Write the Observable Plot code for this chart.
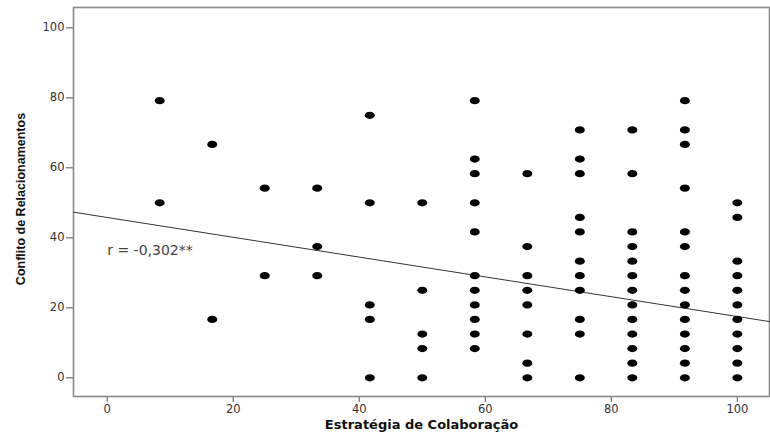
<!DOCTYPE html>
<html><head><meta charset="utf-8">
<script src="https://cdn.jsdelivr.net/npm/d3@7"></script>
<script src="https://cdn.jsdelivr.net/npm/@observablehq/plot@0.6"></script>
<style>body{margin:0;background:#fff}</style>
</head><body><div id="chart"></div>
<script>
// Estratégia de Colaboração (x) columns
const strategyX = [8.33, 16.67, 25, 33.33, 41.67, 50, 58.33, 66.67, 75, 83.33, 91.67, 100];
// Conflito de Relacionamentos (y) values observed in each column
const conflictY = [
  [79.17, 50],
  [66.67, 16.67],
  [54.17, 29.17],
  [54.17, 37.5, 29.17],
  [75, 50, 20.83, 16.67, 0],
  [50, 25, 12.5, 8.33, 0],
  [79.17, 62.5, 58.33, 50, 41.67, 29.17, 25, 20.83, 16.67, 12.5, 8.33],
  [58.33, 37.5, 29.17, 25, 20.83, 12.5, 4.17, 0],
  [70.83, 62.5, 58.33, 45.83, 41.67, 33.33, 29.17, 25, 16.67, 12.5, 0],
  [70.83, 58.33, 41.67, 37.5, 33.33, 29.17, 25, 20.83, 16.67, 12.5, 8.33, 4.17, 0],
  [79.17, 70.83, 66.67, 54.17, 41.67, 37.5, 29.17, 25, 20.83, 16.67, 12.5, 8.33, 4.17, 0],
  [50, 45.83, 33.33, 29.17, 25, 20.83, 16.67, 12.5, 8.33, 4.17, 0]
];
const xTicks = [0, 20, 40, 60, 80, 100];
const yTicks = [0, 20, 40, 60, 80, 100];
const xDomain = [-5.35, 105.1];
const yDomain = [-5.35, 105.8];
// fit line
const fitIntercept = 45.8;
const fitSlope = -0.283;
const rLabel = "r = -0,302**";
const rLabelPos = {x: 0, y: 36.4};
const xTitle = "Estratégia de Colaboração";
const yTitle = "Conflito de Relacionamentos";

const points = strategyX.flatMap((x, i) => conflictY[i].map(y => ({x, y})));
const fitLine = xDomain.map(x => ({x, y: fitIntercept + fitSlope * x}));

const ellipse = {
  draw(ctx, size) {
    const r = Math.sqrt(size / Math.PI);
    const rx = r * 1.25, ry = r * 0.9, k = 0.5523;
    ctx.moveTo(rx, 0);
    ctx.bezierCurveTo(rx, ry * k, rx * k, ry, 0, ry);
    ctx.bezierCurveTo(-rx * k, ry, -rx, ry * k, -rx, 0);
    ctx.bezierCurveTo(-rx, -ry * k, -rx * k, -ry, 0, -ry);
    ctx.bezierCurveTo(rx * k, -ry, rx, -ry * k, rx, 0);
    ctx.closePath();
  }
};

const chart = Plot.plot({
  width: 770,
  height: 439,
  marginLeft: 73,
  marginRight: 1,
  marginTop: 7,
  marginBottom: 43,
  style: {fontFamily: "DejaVu Sans", fontSize: "11.5px", color: "#333", background: "#fff"},
  x: {domain: xDomain, ticks: xTicks, tickSize: 6, tickPadding: 2, label: null},
  y: {domain: yDomain, ticks: yTicks, tickSize: 7, tickPadding: 2, label: null},
  marks: [
    Plot.frame({stroke: "#888", strokeWidth: 1.6}),
    Plot.line(fitLine, {x: "x", y: "y", stroke: "#333", strokeWidth: 1}),
    Plot.dot(points, {x: "x", y: "y", r: 4, symbol: ellipse, fill: "#000", stroke: "none"}),
    Plot.text([rLabel], {x: () => rLabelPos.x, y: () => rLabelPos.y, text: d => d, textAnchor: "start", fontSize: 14, fontFamily: "DejaVu Sans", fill: "#444"}),
    Plot.text([xTitle], {frameAnchor: "bottom", text: d => d, dy: 32, fontSize: 13, fontWeight: "bold", fontFamily: "DejaVu Sans", fill: "#111"}),
    Plot.text([yTitle], {frameAnchor: "left", text: d => d, dx: -53, dy: -3, rotate: -90, textAnchor: "middle", fontSize: 12.5, fontWeight: "bold", fontFamily: "Liberation Sans", fill: "#111"})
  ]
});
document.getElementById("chart").appendChild(chart);
d3.select(chart).selectAll('g[aria-label$="tick"] path').attr("stroke", "#777").attr("stroke-width", 1.3);
</script>
</body></html>
